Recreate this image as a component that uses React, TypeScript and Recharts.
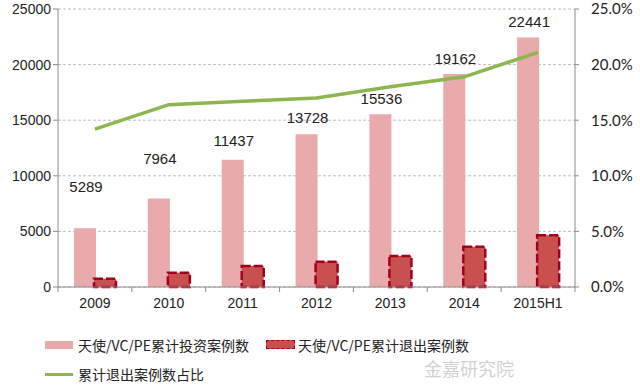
import React from "react";
import {
  ComposedChart,
  Bar,
  Line,
  XAxis,
  YAxis,
  CartesianGrid,
  LabelList,
} from "recharts";

const years = ["2009", "2010", "2011", "2012", "2013", "2014", "2015H1"];
const investCases = [5289, 7964, 11437, 13728, 15536, 19162, 22441];
const exitCases = [750, 1290, 1890, 2280, 2790, 3620, 4660];
const exitRatio = [0.142, 0.164, 0.167, 0.17, 0.18, 0.189, 0.211];
const leftTicks = [0, 5000, 10000, 15000, 20000, 25000];
const rightTicks = [0, 0.05, 0.1, 0.15, 0.2, 0.25];

// extra lift for the first labels, as in the source
const labelLift = [26, 24, 4, 1, 0, 0, 0];

const data = years.map((year, i) => ({
  year,
  invest: investCases[i],
  exit: exitCases[i],
  ratio: exitRatio[i],
}));

const PINK = "#E8AAAA";
const DARK = "#C8504F";
const DARK_EDGE = "#A30020";
const GREEN = "#8DB64E";
const AXIS = "#8C8C8C";
const BAND = (575 - 58) / years.length;

const XTick = (props: any) => {
  const { x, y, payload, index } = props;
  const half = BAND / 2;
  return (
    <g>
      <line x1={x - half} x2={x - half} y1={y - 8} y2={y - 3} stroke={AXIS} />
      {index === years.length - 1 && (
        <line x1={x + half} x2={x + half} y1={y - 8} y2={y - 3} stroke={AXIS} />
      )}
      <text
        x={x}
        y={y + 13}
        textAnchor="middle"
        fontSize={14}
        fontFamily="Liberation Sans, Arial"
        fill="#222"
      >
        {payload.value}
      </text>
    </g>
  );
};

const BarLabel = (props: any) => {
  const { x, y, width, value, index } = props;
  return (
    <text
      x={x + width / 2 + 1}
      y={y - 10 - labelLift[index]}
      textAnchor="middle"
      fontSize={15}
      fontFamily="Liberation Sans, Arial"
      fill="#222"
    >
      {value}
    </text>
  );
};

const legendText: React.CSSProperties = {
  position: "absolute",
  fontFamily: "'Noto Sans CJK SC', sans-serif",
  fontSize: 14,
  color: "#222",
  lineHeight: "16px",
  whiteSpace: "nowrap",
};

export default function App() {
  return (
    <div
      style={{
        position: "absolute",
        left: 0,
        top: 0,
        width: 640,
        height: 386,
        background: "#fff",
      }}
    >
      <ComposedChart
        width={640}
        height={386}
        data={data}
        margin={{ top: 9, right: 0, bottom: 69, left: 0 }}
        barSize={22}
        barGap={-2}
      >
        <CartesianGrid
          vertical={false}
          yAxisId="left"
          stroke="#BDBDBD"
          strokeDasharray="3 2"
        />
        <XAxis
          dataKey="year"
          height={30}
          stroke={AXIS}
          tickLine={false}
          tick={<XTick />}
        />
        <YAxis
          yAxisId="left"
          width={58}
          domain={[0, 25000]}
          ticks={leftTicks}
          stroke={AXIS}
          tickSize={5}
          tick={{
            fontSize: 14,
            fill: "#222",
            fontFamily: "Liberation Sans, Arial",
          }}
        />
        <YAxis
          yAxisId="right"
          orientation="right"
          width={65}
          domain={[0, 0.25]}
          ticks={rightTicks}
          stroke={AXIS}
          tickSize={4}
          tickMargin={12}
          tickFormatter={(v: number) => (v * 100).toFixed(1) + "%"}
          tick={{ fontSize: 15, fill: "#222", fontFamily: "Lato, sans-serif" }}
        />
        <Bar yAxisId="left" dataKey="invest" fill={PINK} isAnimationActive={false}>
          <LabelList dataKey="invest" content={<BarLabel />} />
        </Bar>
        <Bar
          yAxisId="left"
          dataKey="exit"
          fill={DARK}
          stroke={DARK_EDGE}
          strokeWidth={2.5}
          strokeDasharray="9 3"
          isAnimationActive={false}
        />
        <Line
          yAxisId="right"
          dataKey="ratio"
          type="linear"
          stroke={GREEN}
          strokeWidth={3.5}
          dot={false}
          isAnimationActive={false}
        />
      </ComposedChart>

      <div
        style={{
          position: "absolute",
          left: 45,
          top: 341,
          width: 28,
          height: 8,
          background: PINK,
        }}
      />
      <div style={{ ...legendText, left: 78, top: 337 }}>
        天使/VC/PE累计投资案例数
      </div>
      <div
        style={{
          position: "absolute",
          left: 266,
          top: 340,
          width: 27,
          height: 7,
          background: DARK,
          border: `1.5px dashed ${DARK_EDGE}`,
        }}
      />
      <div style={{ ...legendText, left: 298, top: 337 }}>
        天使/VC/PE累计退出案例数
      </div>
      <div
        style={{
          position: "absolute",
          left: 45,
          top: 373,
          width: 28,
          height: 3,
          background: GREEN,
        }}
      />
      <div style={{ ...legendText, left: 78, top: 366 }}>累计退出案例数占比</div>
      <div
        style={{
          ...legendText,
          left: 424,
          top: 358,
          fontSize: 18,
          lineHeight: "20px",
          color: "rgba(170,170,170,0.55)",
        }}
      >
        金嘉研究院
      </div>
    </div>
  );
}
